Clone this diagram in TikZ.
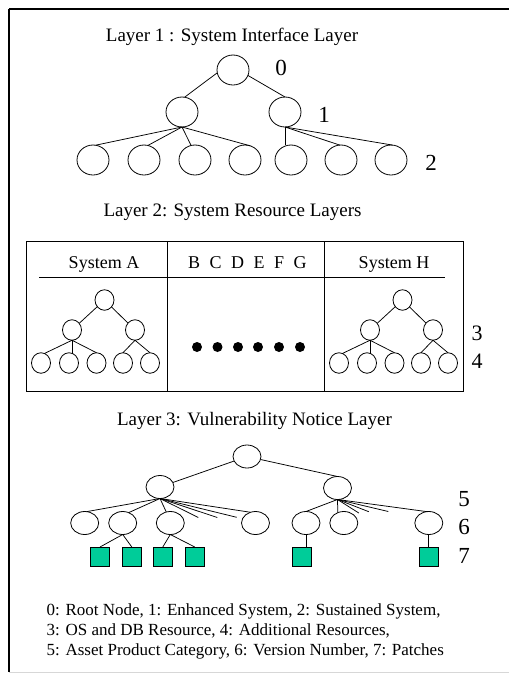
\documentclass[tikz,border=0pt]{standalone}
\usepackage{fontspec}
\setmainfont{Liberation Serif}
\usetikzlibrary{shapes.geometric,calc}
\definecolor{patchgreen}{RGB}{0,204,153}
\definecolor{framegray}{RGB}{215,215,215}

% small resource tree: #1 name prefix, #2 horizontal shift
\newcommand\restree[2]{%
  \begin{scope}[xshift=#2pt]
    \node[n2] (#1r) at (104.5,300) {};
    \node[n2] (#1a) at (72,330) {};
    \node[n2] (#1b) at (135,330) {};
    \node[n2] (#1l1) at (41,363) {};
    \node[n2] (#1l2) at (69,363) {};
    \node[n2] (#1l3) at (96.5,363) {};
    \node[n2] (#1l4) at (123,363) {};
    \node[n2] (#1l5) at (150,363) {};
    \draw[edge] (#1r) -- (#1a);
    \draw[edge] (#1r) -- (#1b);
    \draw[edge] (#1a.south) -- (#1l1.70);
    \draw[edge] (#1a.south) -- (#1a.south |- #1l2.north);
    \draw[edge] (#1a.south) -- (#1l3.north);
    \draw[edge] (#1b.south) -- (#1l4.north);
    \draw[edge] (#1b.south) -- (#1l5.north);
  \end{scope}}

\begin{document}
\begin{tikzpicture}[x=1pt,y=-1pt,
  every node/.style={inner sep=0pt,outer sep=0pt},
  edge/.style={line width=0.75pt},
  n1/.style={draw,ellipse,line width=0.8pt,minimum width=32pt,minimum height=30pt},
  n2/.style={draw,ellipse,line width=0.8pt,minimum width=19pt,minimum height=20.5pt},
  n3/.style={draw,ellipse,line width=0.8pt,minimum width=28pt,minimum height=23pt},
  patch/.style={draw,fill=patchgreen,line width=0.8pt,minimum size=19pt},
  title/.style={anchor=base,font=\fontsize{19}{22}\selectfont},
  head/.style={anchor=base,font=\fontsize{18}{21}\selectfont},
  digit/.style={anchor=base,font=\fontsize{23}{26}\selectfont},
  legend/.style={anchor=base west,font=\fontsize{17}{20}\selectfont}]

\useasboundingbox (0,0) rectangle (509,673);

% page frame
\draw[line width=2pt] (8.8,9.3) -- (509,9.3);
\draw[line width=1.5pt] (8.8,8.5) -- (8.8,672);
\draw[framegray,line width=1pt] (9,672) -- (509,672);

% ---------------- Layer 1 ----------------
\node[title] (t1) at (232,41) {Layer 1 : System Interface Layer};
\node[n1] (r0) at (233,70) {};
\node[n1] (m1) at (182,112) {};
\node[n1] (m2) at (285,112) {};
\node[n1] (k1) at (93,160) {};
\node[n1] (k2) at (144,160) {};
\node[n1] (k3) at (195,160) {};
\node[n1] (k4) at (245,160) {};
\node[n1] (k5) at (291,160) {};
\node[n1] (k6) at (341,160) {};
\node[n1] (k7) at (391,160) {};
\draw[edge] (r0.190) -- (m1.80);
\draw[edge] (r0.340) -- (m2.north);
\draw[edge] (m1.south) -- (k1.80);
\draw[edge] (m1.south) -- (k2.75);
\draw[edge] (m1.south) -- (k3.105);
\draw[edge] (m1.south) -- (k4.70);
\draw[edge] (m2.south) -- (m2.south |- k5.north);
\draw[edge] (m2.south) -- (k6.95);
\draw[edge] (m2.south) -- (k7.85);
\node[digit] (d0) at (281,75.5) {0};
\node[digit] (d1) at (324,122) {1};
\node[digit] (d2) at (431,170) {2};

% ---------------- Layer 2 ----------------
\node[title] (t2) at (232.5,216) {Layer 2: System Resource Layers};
\node[draw,line width=0.8pt,minimum width=437pt,minimum height=150pt] (box) at (244.5,316) {};
\draw[line width=0.8pt] (167,241) -- (167,391);
\draw[line width=0.8pt] (324,241) -- (324,391);
\draw[line width=0.8pt] (39,277) -- (445,277);
\node[head] (sa) at (104,268) {System A};
\node[head] (sbg) at (247.5,268) {B\hspace{9.5pt}C\hspace{9.5pt}D\hspace{9.5pt}E\hspace{9.5pt}F\hspace{9.5pt}G};
\node[head] (sh) at (394,268) {System H};
\restree{A}{0}
\restree{H}{298}
\foreach \x [count=\i] in {197,217.5,238,258,279,300}
  \node[circle,fill=black,minimum size=10pt] (dot\i) at (\x,347) {};
\node[anchor=base,font=\fontsize{22}{25}\selectfont] (d3) at (477,340) {3};
\node[anchor=base,font=\fontsize{22}{25}\selectfont] (d4) at (477,368.5) {4};

% ---------------- Layer 3 ----------------
\node[title] (t3) at (254.5,425.7) {Layer 3: Vulnerability Notice Layer};
\node[n3] (v0) at (247,456.5) {};
\node[n3] (vL) at (160,487) {};
\node[n3] (vR) at (337.5,488) {};
\node[n3] (p1) at (84.7,523) {};
\node[n3] (p2) at (122.7,523) {};
\node[n3] (p3) at (170.3,523) {};
\node[n3] (p4) at (255.5,523) {};
\node[n3] (p5) at (306,523) {};
\node[n3] (p6) at (343.8,523) {};
\node[n3] (p7) at (428.8,523) {};
\draw[edge] (v0) -- (vL);
\draw[edge] (v0) -- (vR.north);
% category fan of the left branch
\coordinate (uL1) at (198.3,517.5);
\coordinate (uL2) at (217.3,517.5);
\coordinate (uL3) at (236.7,517.3);
\draw[edge] (vL.south) -- (p1.80);
\draw[edge] (vL.south) -- (p2.60);
\draw[edge] (vL.south) -- (p3.110);
\draw[edge] (vL.south) -- (uL1);
\draw[edge] (vL.south) -- (uL2);
\draw[edge] (vL.south) -- (uL3);
\draw[edge] (vL.south) -- (p4.115);
% category fan of the right branch
\coordinate (uR1) at (358.8,513);
\coordinate (uR2) at (368.8,511.7);
\coordinate (uR3) at (388.3,511.5);
\draw[edge] (vR.south) -- (p5.north);
\draw[edge] (vR.south) -- (p6.120);
\draw[edge] (vR.south) -- (uR1);
\draw[edge] (vR.south) -- (uR2);
\draw[edge] (vR.south) -- (uR3);
\draw[edge] (vR.south) -- (p7.100);
% patches
\node[patch] (q1) at (100,556.5) {};
\node[patch] (q2) at (131.8,556.5) {};
\node[patch] (q3) at (162.8,556.5) {};
\node[patch] (q4) at (194.8,556.5) {};
\node[patch] (q5) at (302,556.5) {};
\node[patch] (q6) at (428.8,556.5) {};
\draw[edge] (p2.south) -- (q1.north);
\draw[edge] (p2.south) -- (q2.north);
\draw[edge] (p3.south) -- (q3.north);
\draw[edge] (p3.south) -- (q4.north);
\draw[edge] (p5.south) -- (p5.south |- q5.north);
\draw[edge] (p7.south) -- (q6.north);
\node[digit] (d5) at (464,506.5) {5};
\node[digit] (d6) at (464,534.5) {6};
\node[digit] (d7) at (464,563) {7};

% legend
\node[legend] (g1) at (46.7,615) {0: Root Node, 1: Enhanced System, 2: Sustained System,};
\node[legend] (g2) at (46.7,635) {3: OS and DB Resource, 4: Additional Resources,};
\node[legend] (g3) at (46.7,655) {5: Asset Product Category, 6: Version Number, 7: Patches};
\end{tikzpicture}
\end{document}
